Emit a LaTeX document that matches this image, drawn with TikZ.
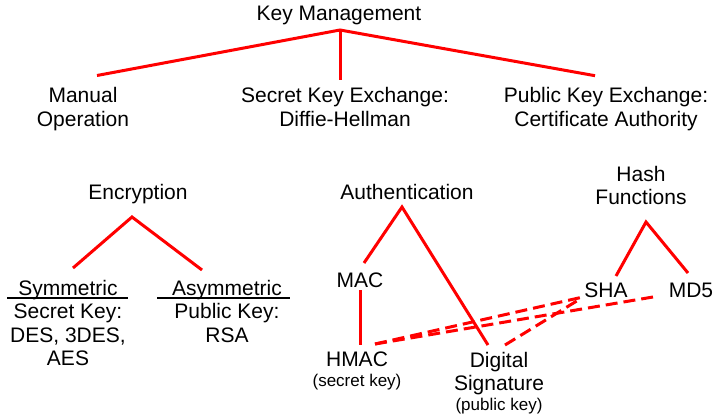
\documentclass[tikz,border=0pt]{standalone}
\usepackage{fontspec}
\setmainfont{Liberation Sans}
\begin{document}
\begin{tikzpicture}[x=1pt,y=-1pt,
  lbl/.style={font=\fontsize{21}{23.3}\selectfont, align=center, inner sep=0pt, anchor=north},
  sublbl/.style={font=\fontsize{17}{19}\selectfont, inner sep=0pt, anchor=base},
  link/.style={draw=red, line width=3pt},
  uselink/.style={draw=red, line width=3pt, dash pattern=on 12pt off 6pt},
  rulebar/.style={draw=black, line width=2pt}]
\useasboundingbox (0,0) rectangle (725,415);
% text nodes
\node[lbl] (km) at (339,5.7) {Key Management};
\node[lbl] (man) at (83,87.3) {Manual\\Operation};
\node[lbl] (ske) at (345,87.3) {Secret Key Exchange:\\Diffie-Hellman};
\node[lbl] (pke) at (606,87.3) {Public Key Exchange:\\Certificate Authority};
\node[lbl] (enc) at (138,184) {Encryption};
\node[lbl] (auth) at (407,184) {Authentication};
\node[lbl] (hash) at (641,166) {Hash\\Functions};
\node[lbl] (sym) at (68,280) {Symmetric\\Secret Key:\\DES, 3DES,\\AES};
\node[lbl] (asym) at (227,280) {Asymmetric\\Public Key:\\RSA};
\node[lbl] (mac) at (360,273) {MAC};
\node[lbl] (hmac) at (357,351.7) {HMAC};
\node[sublbl] (hmack) at (357,386) {(secret key)};
\node[lbl] (dsig) at (499,351.7) {Digital\\Signature};
\node[sublbl] (dsigk) at (499,410) {(public key)};
\node[lbl] (sha) at (606,283) {SHA};
\node[lbl] (md5) at (691,283) {MD5};
% underlines
\draw[rulebar] (7,298) -- (128,298);
\draw[rulebar] (157,298) -- (290,298);
% connector end points
\coordinate (kmA) at (340,30);
\coordinate (manT) at (97,75.5);
\coordinate (skeT) at (340,80);
\coordinate (pkeT) at (595,75.7);
\coordinate (encA) at (132,217);
\coordinate (symT) at (73,268);
\coordinate (asymT) at (202,270);
\coordinate (authA) at (402,207);
\coordinate (macT) at (364,263);
\coordinate (dsigT) at (488,345);
\coordinate (macB) at (360,290);
\coordinate (hmacT) at (360,345);
\coordinate (hashA) at (646,222);
\coordinate (shaT) at (616,276);
\coordinate (md5T) at (688,273);
\coordinate (hmacR) at (375,344);
\coordinate (dsigR) at (505,345);
\coordinate (shaL) at (583,297);
\coordinate (shaB) at (580,299);
\coordinate (md5L) at (653,297);
% tree lines
\draw[link] (manT) -- (kmA) -- (pkeT);
\draw[link] (kmA) -- (skeT);
\draw[link] (symT) -- (encA) -- (asymT);
\draw[link] (macT) -- (authA) -- (dsigT);
\draw[link] (macB) -- (hmacT);
\draw[link] (shaT) -- (hashA) -- (md5T);
% usage lines
\draw[uselink] (hmacR) -- (shaL);
\draw[uselink] (hmacR) -- (md5L);
\draw[uselink] (dsigR) -- (shaB);
\end{tikzpicture}
\end{document}
